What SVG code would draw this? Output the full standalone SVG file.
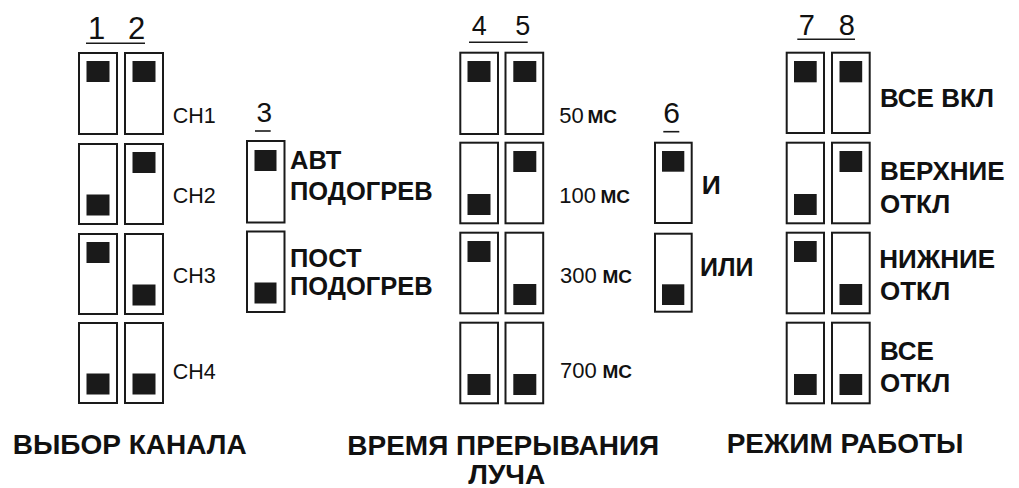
<svg xmlns="http://www.w3.org/2000/svg" width="1019" height="488" viewBox="0 0 1019 488">
<defs>
<style>
.box{fill:#fff;stroke:#1a1a1a;stroke-width:2}
.k{fill:#1a1a1a}
.ul{stroke:#1a1a1a;stroke-width:1.6}
text{font-family:"Liberation Sans",Arial,sans-serif;fill:#111}
.num{font-size:29px}
.ch{font-size:21.5px}
.lb{font-size:25.5px;font-weight:bold}
.ms{font-size:22px}
.msu{font-size:19px;font-weight:bold}
.cap{font-size:28px;font-weight:bold}
</style>
</defs>
<rect width="1019" height="488" fill="#fff"/>

<g id="group-channel">
<text class="num" x="96.7" y="39" text-anchor="middle" style="font-size:31px">1</text>
<text class="num" x="136.7" y="39" text-anchor="middle" style="font-size:31px">2</text>
<line class="ul" x1="86" y1="43.3" x2="145" y2="43.3"/>
<rect class="box" x="79" y="53" width="38" height="81"/><rect class="k" x="86.5" y="61" width="23" height="21"/>
<rect class="box" x="125" y="53" width="38" height="81"/><rect class="k" x="132.5" y="61" width="23" height="21"/>
<rect class="box" x="79" y="144" width="38" height="80"/><rect class="k" x="86.5" y="194.5" width="23" height="21"/>
<rect class="box" x="125" y="144" width="38" height="80"/><rect class="k" x="132.5" y="152" width="23" height="21"/>
<rect class="box" x="79" y="234" width="38" height="80"/><rect class="k" x="86.5" y="242" width="23" height="21"/>
<rect class="box" x="125" y="234" width="38" height="80"/><rect class="k" x="132.5" y="284.5" width="23" height="21"/>
<rect class="box" x="79" y="323" width="38" height="80"/><rect class="k" x="86.5" y="373.5" width="23" height="21"/>
<rect class="box" x="125" y="323" width="38" height="80"/><rect class="k" x="132.5" y="373.5" width="23" height="21"/>
<text class="ch" x="172.7" y="123.3">CH1</text>
<text class="ch" x="172.7" y="203.3">CH2</text>
<text class="ch" x="172.7" y="283.3">CH3</text>
<text class="ch" x="172.7" y="379.3">CH4</text>
</g>

<g id="group-heat">
<text class="num" x="264.3" y="121.7" text-anchor="middle" style="font-size:28px">3</text>
<line class="ul" x1="255" y1="131" x2="270.7" y2="131"/>
<rect class="box" x="247" y="141" width="37.5" height="81.5"/><rect class="k" x="254.5" y="150" width="22" height="21"/>
<rect class="box" x="247" y="231.5" width="37.5" height="80.5"/><rect class="k" x="254.5" y="282.5" width="22" height="21"/>
<text class="lb" x="290" y="169.3">АВТ</text>
<text class="lb" x="290" y="200">ПОДОГРЕВ</text>
<text class="lb" x="290" y="266.7">ПОСТ</text>
<text class="lb" x="290" y="295">ПОДОГРЕВ</text>
</g>

<g id="group-time">
<text class="num" x="479.3" y="35" text-anchor="middle" style="font-size:27px">4</text>
<text class="num" x="522.7" y="35" text-anchor="middle" style="font-size:27px">5</text>
<line class="ul" x1="469" y1="42.3" x2="527.7" y2="42.3"/>
<rect class="box" x="460.3" y="52.7" width="37.7" height="81.3"/><rect class="k" x="467.5" y="61" width="23" height="21"/>
<rect class="box" x="505.5" y="52.7" width="37.7" height="81.3"/><rect class="k" x="513.3" y="61" width="23" height="21"/>
<rect class="box" x="460.3" y="142.7" width="37.7" height="80.6"/><rect class="k" x="467.5" y="194" width="23" height="21"/>
<rect class="box" x="505.5" y="142.7" width="37.7" height="80.6"/><rect class="k" x="513.3" y="151" width="23" height="21"/>
<rect class="box" x="460.3" y="232.7" width="37.7" height="80.6"/><rect class="k" x="467.5" y="241" width="23" height="21"/>
<rect class="box" x="505.5" y="232.7" width="37.7" height="80.6"/><rect class="k" x="513.3" y="284" width="23" height="21"/>
<rect class="box" x="460.3" y="322.7" width="37.7" height="80.6"/><rect class="k" x="467.5" y="374" width="23" height="21"/>
<rect class="box" x="505.5" y="322.7" width="37.7" height="80.6"/><rect class="k" x="513.3" y="374" width="23" height="21"/>
<text class="ms" x="559.3" y="122.7">50</text><text class="msu" x="587.5" y="122.7">МС</text>
<text class="ms" x="559.3" y="202.7">100</text><text class="msu" x="600.5" y="202.7">МС</text>
<text class="ms" x="560" y="283.3">300</text><text class="msu" x="602.5" y="283.3">МС</text>
<text class="ms" x="560" y="378.3">700</text><text class="msu" x="602.5" y="378.3">МС</text>
</g>

<g id="group-logic">
<text class="num" x="671.7" y="123.3" text-anchor="middle" style="font-size:30px">6</text>
<line class="ul" x1="663.3" y1="131.7" x2="679.3" y2="131.7"/>
<rect class="box" x="655" y="142.7" width="36.7" height="80.3"/><rect class="k" x="662" y="151" width="22.3" height="20.7"/>
<rect class="box" x="655" y="233.7" width="36.7" height="78"/><rect class="k" x="662" y="284.3" width="22.3" height="20.7"/>
<text class="lb" x="701.7" y="194" style="font-size:26.5px">И</text>
<text class="lb" x="700" y="276" style="font-size:25px">ИЛИ</text>
</g>

<g id="group-mode">
<text class="num" x="806.7" y="35" text-anchor="middle">7</text>
<text class="num" x="846.7" y="35" text-anchor="middle">8</text>
<line class="ul" x1="797.3" y1="39.3" x2="855" y2="39.3"/>
<rect class="box" x="786.7" y="52.7" width="37.3" height="80.3"/><rect class="k" x="794" y="61" width="22.7" height="21.3"/>
<rect class="box" x="832" y="52.7" width="37.7" height="80.3"/><rect class="k" x="839.5" y="61" width="22.7" height="21.3"/>
<rect class="box" x="786.7" y="142.7" width="37.3" height="80.6"/><rect class="k" x="794" y="194" width="22.7" height="21"/>
<rect class="box" x="832" y="142.7" width="37.7" height="80.6"/><rect class="k" x="839.5" y="151" width="22.7" height="21"/>
<rect class="box" x="786.7" y="232.7" width="37.3" height="80.6"/><rect class="k" x="794" y="241" width="22.7" height="21"/>
<rect class="box" x="832" y="232.7" width="37.7" height="80.6"/><rect class="k" x="839.5" y="284" width="22.7" height="21"/>
<rect class="box" x="786.7" y="322.7" width="37.3" height="80.6"/><rect class="k" x="794" y="374" width="22.7" height="21"/>
<rect class="box" x="832" y="322.7" width="37.7" height="80.6"/><rect class="k" x="839.5" y="374" width="22.7" height="21"/>
<text class="lb" x="880" y="106.7" style="font-size:26px">ВСЕ ВКЛ</text>
<text class="lb" x="880" y="180" style="font-size:26px">ВЕРХНИЕ</text>
<text class="lb" x="880" y="213" style="font-size:26px">ОТКЛ</text>
<text class="lb" x="879.3" y="268.3" style="font-size:26px">НИЖНИЕ</text>
<text class="lb" x="880" y="300" style="font-size:26px">ОТКЛ</text>
<text class="lb" x="880" y="360" style="font-size:26px">ВСЕ</text>
<text class="lb" x="880" y="391.7" style="font-size:26px">ОТКЛ</text>
</g>

<g id="captions">
<text class="cap" x="12.7" y="454.3">ВЫБОР КАНАЛА</text>
<text class="cap" x="347.3" y="455">ВРЕМЯ ПРЕРЫВАНИЯ</text>
<text class="cap" x="468.3" y="484">ЛУЧА</text>
<text class="cap" x="726.7" y="453.3">РЕЖИМ РАБОТЫ</text>
</g>

<g id="connectors"></g>
</svg>
